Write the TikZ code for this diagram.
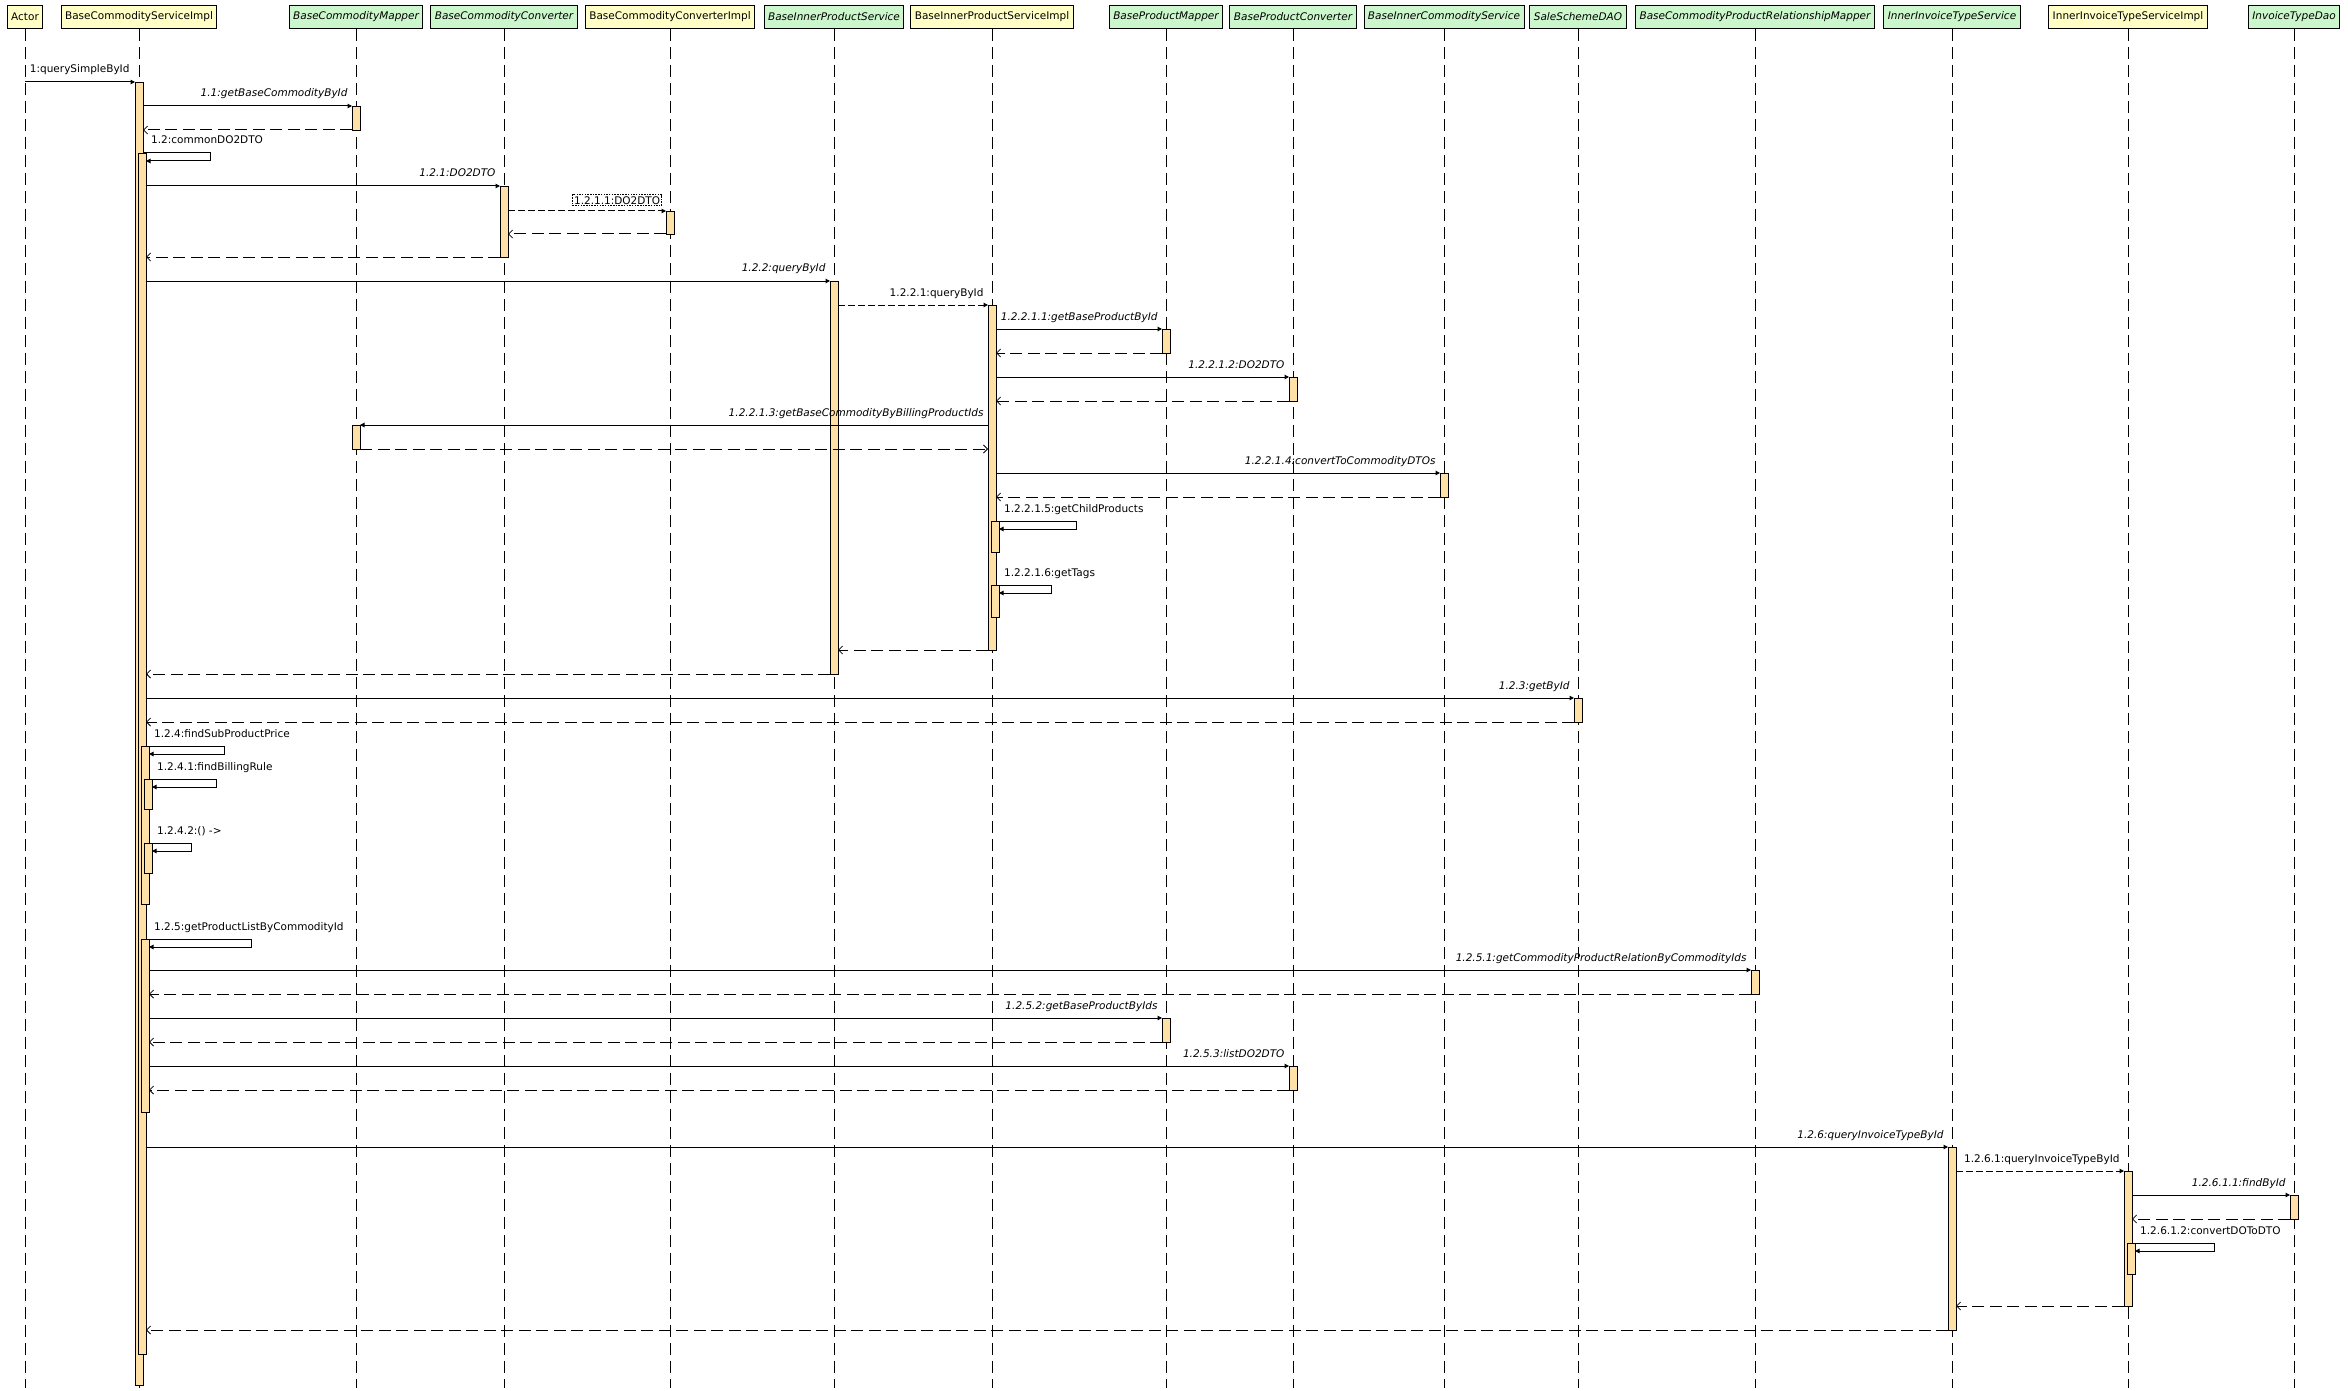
\documentclass[tikz,border=0pt]{standalone}
\usepackage{fontspec}
\setmainfont{DejaVu Sans}
\usetikzlibrary{arrows.meta,calc}
\definecolor{hdryellow}{HTML}{FFFFC6}
\definecolor{hdrgreen}{HTML}{CCF7CC}
\definecolor{actfill}{HTML}{FFE0A6}
\newcommand{\dfont}{\fontsize{10.5}{12}\selectfont}
\newcommand{\actbar}[4]{\node[act, minimum height={(#4)-(#3)}] (#1) at (#2,#3) {};}
\newcommand{\selfcall}[5]{%
  \draw[call] (#1.east |- #2.north) -- ++(#3,0) -- ++(0,8) -- ($(#2.north east)+(0,8)$);
  \node[slbl] (#4) at ($(#1.east |- #2.north)+(8,-9)$) {#5};}
\tikzset{
 hdr/.style={draw=black, line width=0.9pt, minimum height=23pt, inner xsep=4pt, inner ysep=0pt, font=\dfont},
 hdrimpl/.style={hdr, fill=hdryellow},
 hdrintf/.style={hdr, fill=hdrgreen, font=\dfont\itshape},
 life/.style={line width=1pt, dash pattern=on 12.5pt off 5.5pt},
 act/.style={draw=black, line width=0.9pt, fill=actfill, minimum width=8pt, inner sep=0pt, outer sep=0pt, anchor=north},
 call/.style={line width=1pt, -{Triangle[length=4.5pt,width=4.5pt]}},
 icall/.style={call, dash pattern=on 7pt off 3pt},
 ret/.style={line width=1pt, dash pattern=on 12pt off 5.5pt, -{Straight Barb[length=4pt,width=8pt,line width=0.8pt]}},
 lbl/.style={font=\dfont, inner sep=0pt, anchor=base east},
 ilbl/.style={lbl, font=\dfont\itshape},
 slbl/.style={font=\dfont, inner sep=0pt, anchor=base west},
 boxlbl/.style={font=\dfont, draw=black, line width=0.7pt, dash pattern=on 1.5pt off 1.2pt, inner sep=1.5pt, anchor=south east},
}
\begin{document}
\begin{tikzpicture}[x=1pt,y=-1pt]
\fill[white] (0,0) rectangle (2348,1391);
\useasboundingbox (0,0) rectangle (2348,1391);
% headers
\node[hdrimpl] (h1) at (25,17) {Actor};
\node[hdrimpl] (h2) at (139,17) {BaseCommodityServiceImpl};
\node[hdrintf] (h3) at (356,17) {BaseCommodityMapper};
\node[hdrintf] (h4) at (504,17) {BaseCommodityConverter};
\node[hdrimpl] (h5) at (670,17) {BaseCommodityConverterImpl};
\node[hdrintf] (h6) at (834,17) {BaseInnerProductService};
\node[hdrimpl] (h7) at (992,17) {BaseInnerProductServiceImpl};
\node[hdrintf] (h8) at (1166,17) {BaseProductMapper};
\node[hdrintf] (h9) at (1293,17) {BaseProductConverter};
\node[hdrintf] (h10) at (1444,17) {BaseInnerCommodityService};
\node[hdrintf] (h11) at (1578,17) {SaleSchemeDAO};
\node[hdrintf] (h12) at (1755,17) {BaseCommodityProductRelationshipMapper};
\node[hdrintf] (h13) at (1952,17) {InnerInvoiceTypeService};
\node[hdrimpl] (h14) at (2128,17) {InnerInvoiceTypeServiceImpl};
\node[hdrintf] (h15) at (2294,17) {InvoiceTypeDao};
% lifelines
\foreach \h in {h1,h2,h3,h4,h5,h6,h7,h8,h9,h10,h11,h12,h13,h14,h15}
  \draw[life] (\h.south) -- (\h.south |- 0,1388);
% activation bars
\actbar{s0}{139}{82}{1385}
\actbar{s1}{142}{153}{1354}
\actbar{s2a}{145}{746}{904}
\actbar{s3a}{148}{779}{809}
\actbar{s3b}{148}{843}{873}
\actbar{s2b}{145}{939}{1112}
\actbar{m1}{356}{106}{130}
\actbar{m2}{356}{425}{449}
\actbar{c1}{504}{186}{257}
\actbar{ci1}{670}{211}{234}
\actbar{p1}{834}{281}{674}
\actbar{pi0}{992}{305}{650}
\actbar{pi1}{995}{521}{552}
\actbar{pi2}{995}{585}{617}
\actbar{pm1}{1166}{329}{353}
\actbar{pm2}{1166}{1018}{1042}
\actbar{pc1}{1293}{377}{401}
\actbar{pc2}{1293}{1066}{1090}
\actbar{ics1}{1444}{473}{497}
\actbar{sd1}{1578}{698}{722}
\actbar{rm1}{1755}{970}{994}
\actbar{it1}{1952}{1147}{1330}
\actbar{iti0}{2128}{1171}{1306}
\actbar{iti1}{2131}{1243}{1274}
\actbar{dao1}{2294}{1195}{1219}
% messages
\coordinate (a0) at (h1.south |- s0.north);
\draw[call] (a0) -- (s0.north west) node[pos=1, lbl, xshift=-5pt, yshift=9pt] (l1) {1:querySimpleById};
\draw[call] (s0.east |- m1.north) -- (m1.north west) node[pos=1, ilbl, xshift=-4pt, yshift=9pt] (l11) {1.1:getBaseCommodityById};
\draw[ret] (m1.south west) -- (s0.east |- m1.south);
\selfcall{s0}{s1}{67}{l12}{1.2:commonDO2DTO}
\draw[call] (s1.east |- c1.north) -- (c1.north west) node[pos=1, ilbl, xshift=-4pt, yshift=9pt] (l121) {1.2.1:DO2DTO};
\draw[icall] (c1.east |- ci1.north) -- (ci1.north west) node[pos=1, boxlbl, xshift=-4pt, yshift=5pt] (l1211) {1.2.1.1:DO2DTO};
\draw[ret] (ci1.south west) -- (c1.east |- ci1.south);
\draw[ret] (c1.south west) -- (s1.east |- c1.south);
\draw[call] (s1.east |- p1.north) -- (p1.north west) node[pos=1, ilbl, xshift=-4pt, yshift=9pt] (l122) {1.2.2:queryById};
\draw[icall] (p1.east |- pi0.north) -- (pi0.north west) node[pos=1, lbl, xshift=-4pt, yshift=9pt] (l1221) {1.2.2.1:queryById};
\draw[call] (pi0.east |- pm1.north) -- (pm1.north west) node[pos=1, ilbl, xshift=-4pt, yshift=9pt] (l12211) {1.2.2.1.1:getBaseProductById};
\draw[ret] (pm1.south west) -- (pi0.east |- pm1.south);
\draw[call] (pi0.east |- pc1.north) -- (pc1.north west) node[pos=1, ilbl, xshift=-4pt, yshift=9pt] (l12212) {1.2.2.1.2:DO2DTO};
\draw[ret] (pc1.south west) -- (pi0.east |- pc1.south);
\draw[call] (pi0.west |- m2.north) -- (m2.north east) node[pos=0, ilbl, xshift=-4pt, yshift=9pt] (l12213) {1.2.2.1.3:getBaseCommodityByBillingProductIds};
\draw[ret] (m2.south east) -- (pi0.west |- m2.south);
\draw[call] (pi0.east |- ics1.north) -- (ics1.north west) node[pos=1, ilbl, xshift=-4pt, yshift=9pt] (l12214) {1.2.2.1.4:convertToCommodityDTOs};
\draw[ret] (ics1.south west) -- (pi0.east |- ics1.south);
\selfcall{pi0}{pi1}{80}{l12215}{1.2.2.1.5:getChildProducts}
\selfcall{pi0}{pi2}{55}{l12216}{1.2.2.1.6:getTags}
\draw[ret] (pi0.south west) -- (p1.east |- pi0.south);
\draw[ret] (p1.south west) -- (s1.east |- p1.south);
\draw[call] (s1.east |- sd1.north) -- (sd1.north west) node[pos=1, ilbl, xshift=-4pt, yshift=9pt] (l123) {1.2.3:getById};
\draw[ret] (sd1.south west) -- (s1.east |- sd1.south);
\selfcall{s1}{s2a}{78.5}{l124}{1.2.4:findSubProductPrice}
\selfcall{s2a}{s3a}{67}{l1241}{1.2.4.1:findBillingRule}
\selfcall{s2a}{s3b}{42}{l1242}{1.2.4.2:() ->}
\selfcall{s1}{s2b}{105.5}{l125}{1.2.5:getProductListByCommodityId}
\draw[call] (s2b.east |- rm1.north) -- (rm1.north west) node[pos=1, ilbl, xshift=-4pt, yshift=9pt] (l1251) {1.2.5.1:getCommodityProductRelationByCommodityIds};
\draw[ret] (rm1.south west) -- (s2b.east |- rm1.south);
\draw[call] (s2b.east |- pm2.north) -- (pm2.north west) node[pos=1, ilbl, xshift=-4pt, yshift=9pt] (l1252) {1.2.5.2:getBaseProductByIds};
\draw[ret] (pm2.south west) -- (s2b.east |- pm2.south);
\draw[call] (s2b.east |- pc2.north) -- (pc2.north west) node[pos=1, ilbl, xshift=-4pt, yshift=9pt] (l1253) {1.2.5.3:listDO2DTO};
\draw[ret] (pc2.south west) -- (s2b.east |- pc2.south);
\draw[call] (s1.east |- it1.north) -- (it1.north west) node[pos=1, ilbl, xshift=-4pt, yshift=9pt] (l126) {1.2.6:queryInvoiceTypeById};
\draw[icall] (it1.east |- iti0.north) -- (iti0.north west) node[pos=1, lbl, xshift=-4pt, yshift=9pt] (l1261) {1.2.6.1:queryInvoiceTypeById};
\draw[call] (iti0.east |- dao1.north) -- (dao1.north west) node[pos=1, ilbl, xshift=-4pt, yshift=9pt] (l12611) {1.2.6.1.1:findById};
\draw[ret] (dao1.south west) -- (iti0.east |- dao1.south);
\selfcall{iti0}{iti1}{82}{l12612}{1.2.6.1.2:convertDOToDTO}
\draw[ret] (iti0.south west) -- (it1.east |- iti0.south);
\draw[ret] (it1.south west) -- (s1.east |- it1.south);
\end{tikzpicture}
\end{document}
